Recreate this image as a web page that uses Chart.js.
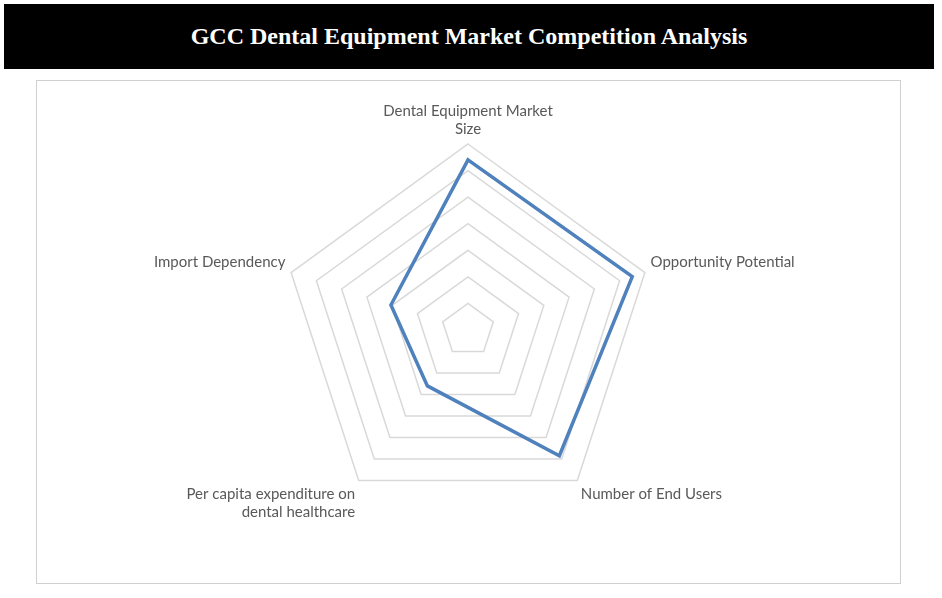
<!DOCTYPE html>
<html><head><meta charset="utf-8">
<script src="https://cdn.jsdelivr.net/npm/chart.js@4/dist/chart.umd.min.js"></script>
<style>
body{margin:0;background:#fff;width:942px;height:598px;position:relative;overflow:hidden}
#title{position:absolute;left:4px;top:4px;width:930px;height:65px;background:#000;color:#fff;font:bold 24px "Liberation Serif",serif;display:flex;align-items:center;justify-content:center}
#box{position:absolute;left:36px;top:80px;width:863px;height:502px;border:1px solid #d0d0d0}
canvas{position:absolute;left:0;top:0}
</style></head><body>
<div id="title">GCC Dental Equipment Market Competition Analysis</div>
<div id="box"><canvas id="c" width="863" height="502"></canvas></div>
<script>
const categories=[["Dental Equipment Market","Size"],"Opportunity Potential","Number of End Users",["Per capita expenditure on","dental healthcare"],"Import Dependency"];
const seriesValues=[6.4,6.5,5.85,2.6,3.05];
const scaleMax=7;
new Chart(document.getElementById('c'),{type:'radar',
data:{labels:categories,datasets:[{data:seriesValues,borderColor:'#4f81bd',borderWidth:3.5,pointRadius:0,fill:false}]},
options:{responsive:false,animation:false,
layout:{padding:{top:0,bottom:45,left:0,right:0}},
plugins:{legend:{display:false},tooltip:{enabled:false}},
scales:{r:{min:0,max:scaleMax,ticks:{stepSize:1,display:false},
grid:{color:'#d9d9d9',lineWidth:1.5},angleLines:{display:false},
pointLabels:{color:'#595959',font:{family:'Lato',size:15},padding:6}}}}});
</script></body></html>
